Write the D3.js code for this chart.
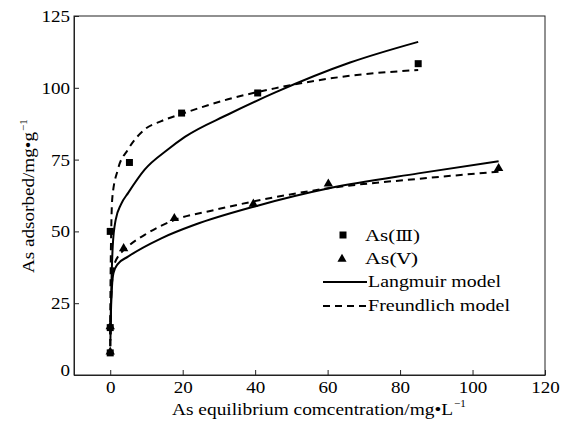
<!DOCTYPE html>
<html>
<head>
<meta charset="utf-8">
<script src="https://cdn.jsdelivr.net/npm/d3@7"></script>
<style>
  body { margin: 0; background: #fff; }
  svg text { font-family: "Liberation Serif", "Times New Roman", serif; fill: #000; }
</style>
</head>
<body>
<div id="chart"></div>
<script>
// measured points
var as3_c = [0, 0, 0, 5.3, 19.7, 40.7, 85];
var as3_q = [7.7, 16.5, 50, 74, 91.2, 98.2, 108.4];
var as5_c = [0, 0, 3.7, 17.7, 39.5, 60.2, 107.2];
var as5_q = [7.7, 16.5, 43.7, 54.2, 59.2, 66.2, 71.6];

// fitted curves
var lang3_c = [0.05, 0.3, 0.7, 1.5, 3, 5, 9.5, 15.9, 20.6, 32.5, 45.4, 66.2, 85];
var lang3_q = [14, 30, 45, 54, 59.5, 63.5, 71.5, 78.5, 82.9, 90.7, 98.3, 108.8, 116];
var freu3_c = [0.01, 0.05, 0.15, 0.3, 0.6, 2.1, 4.9, 9.5, 14.1, 20.6, 32.5, 45.4, 66.2, 85];
var freu3_q = [10, 25, 40, 52, 62, 71.5, 78.5, 85.5, 88.4, 91.3, 96, 99.8, 104.2, 106.2];
var lang5_c = [0.05, 0.2, 0.5, 0.9, 2, 4.9, 14.1, 23.3, 39.9, 60.7, 85, 107.2];
var lang5_q = [12, 22, 31, 35.5, 38.5, 41.2, 47.6, 52.3, 58.7, 65.1, 70.2, 74.4];
var freu5_c = [0.02, 0.1, 0.3, 0.6, 1.2, 4.9, 9.5, 17.8, 27.9, 39, 60.7, 85, 107.2];
var freu5_q = [10, 20, 28, 34, 38.9, 44.7, 48.8, 54, 57.2, 60.3, 65.1, 68.3, 70.8];

var x_ticks = [0, 20, 40, 60, 80, 100, 120];
var y_ticks = [0, 25, 50, 75, 100, 125];

var width = 568, height = 425;
var margin = {top: 16, right: 23, bottom: 50, left: 74};
var stretch = 1.12;  // source text is a bit wider than Liberation Serif

var svg = d3.select('#chart').append('svg')
    .attr('width', width)
    .attr('height', height);

var x = d3.scaleLinear().domain([-10, 120]).range([margin.left, width - margin.right]);
var y = d3.scaleLinear().domain([0, 125]).range([height - margin.bottom, margin.top]);

function zip(a, b) {
    return a.map(function (d, i) { return [d, b[i]]; });
}

function widen(sel) {
    sel.each(function () {
        var w = this.getComputedTextLength();
        d3.select(this).attr('textLength', w * stretch).attr('lengthAdjust', 'spacingAndGlyphs');
    });
}

// frame
svg.append('rect')
    .attr('x', x(-10)).attr('y', y(125))
    .attr('width', x(120) - x(-10)).attr('height', y(0) - y(125))
    .attr('fill', 'none').attr('stroke', '#222').attr('stroke-width', 1);

// axes, ticks inward
var xAxis = svg.append('g')
    .attr('transform', 'translate(0,' + y(0) + ')')
    .call(d3.axisBottom(x).tickValues(x_ticks).tickSizeInner(-5).tickSizeOuter(0).tickPadding(6));
var yAxis = svg.append('g')
    .attr('transform', 'translate(' + x(-10) + ',0)')
    .call(d3.axisLeft(y).tickValues(y_ticks).tickSizeInner(-5).tickSizeOuter(0).tickPadding(4));

[xAxis, yAxis].forEach(function (a) {
    a.select('.domain').attr('stroke', '#222');
    a.selectAll('.tick line').attr('stroke', '#222');
    a.selectAll('.tick text')
        .style('font-size', '17px')
        .style('font-family', '"Liberation Serif", serif')
        .call(widen);
});
yAxis.selectAll('.tick text').filter(function (d) { return d === 0; }).attr('dy', '0.05em');

// curves
var line = d3.line()
    .x(function (d) { return x(d[0]); })
    .y(function (d) { return y(d[1]); })
    .curve(d3.curveMonotoneX);

var curves = [
    [lang3_c, lang3_q, null],
    [freu3_c, freu3_q, '7,5'],
    [lang5_c, lang5_q, null],
    [freu5_c, freu5_q, '7,5']
];
curves.forEach(function (c) {
    svg.append('path')
        .attr('d', line(zip(c[0], c[1])))
        .attr('fill', 'none')
        .attr('stroke', '#000')
        .attr('stroke-width', 2)
        .attr('stroke-dasharray', c[2]);
});

// markers
var sq = d3.symbol().type(d3.symbolSquare).size(49);
var tri = d3.symbol().type(d3.symbolTriangle).size(38);

svg.selectAll('.sq')
    .data(zip(as3_c, as3_q))
    .enter().append('path')
    .attr('class', 'sq')
    .attr('d', sq)
    .attr('transform', function (d) { return 'translate(' + x(d[0]) + ',' + y(d[1]) + ')'; });

svg.selectAll('.tri')
    .data(zip(as5_c, as5_q))
    .enter().append('path')
    .attr('class', 'tri')
    .attr('d', tri)
    .attr('transform', function (d) { return 'translate(' + x(d[0]) + ',' + (y(d[1]) - 1) + ')'; });

// legend
var lg = svg.append('g');
lg.append('path').attr('d', d3.symbol().type(d3.symbolSquare).size(49)).attr('transform', 'translate(343,235)');
lg.append('path').attr('d', d3.symbol().type(d3.symbolTriangle).size(36)).attr('transform', 'translate(342,259)');
lg.append('line').attr('x1', 323).attr('x2', 367).attr('y1', 282).attr('y2', 282)
    .attr('stroke', '#000').attr('stroke-width', 2);
lg.append('line').attr('x1', 323).attr('x2', 367).attr('y1', 306).attr('y2', 306)
    .attr('stroke', '#000').attr('stroke-width', 2).attr('stroke-dasharray', '7,5');

var legend_pre = ['As(', 'As(', 'Langmuir model', 'Freundlich model'];
var legend_num = ['\u2162', '\u2164', '', ''];
var legend_y = [241, 264, 287, 311];
var legend_w = [55, 53, 133, 142];
legend_pre.forEach(function (t, i) {
    var tx = lg.append('text')
        .attr('x', i < 2 ? 365 : 368)
        .attr('y', legend_y[i])
        .attr('textLength', legend_w[i])
        .attr('lengthAdjust', 'spacingAndGlyphs')
        .style('font-size', '17px');
    tx.append('tspan').text(t);
    if (legend_num[i]) {
        tx.append('tspan').style('font-family', '"DejaVu Serif", serif').style('font-size', '15px').text(legend_num[i]);
        tx.append('tspan').text(')');
    }
});

// axis titles
svg.append('text')
    .attr('x', 172).attr('y', 415)
    .attr('textLength', 281)
    .attr('lengthAdjust', 'spacingAndGlyphs')
    .style('font-size', '17px')
    .text('As equilibrium comcentration/mg\u2022L');
svg.append('text')
    .attr('x', 454).attr('y', 407)
    .style('font-size', '11px')
    .text('\u22121');

svg.append('text')
    .attr('transform', 'translate(34,273) rotate(-90)')
    .attr('textLength', 141)
    .attr('lengthAdjust', 'spacingAndGlyphs')
    .style('font-size', '17px')
    .text('As adsorbed/mg\u2022g');
svg.append('text')
    .attr('transform', 'translate(27,131) rotate(-90)')
    .style('font-size', '11px')
    .text('\u22121');
</script>
</body>
</html>
